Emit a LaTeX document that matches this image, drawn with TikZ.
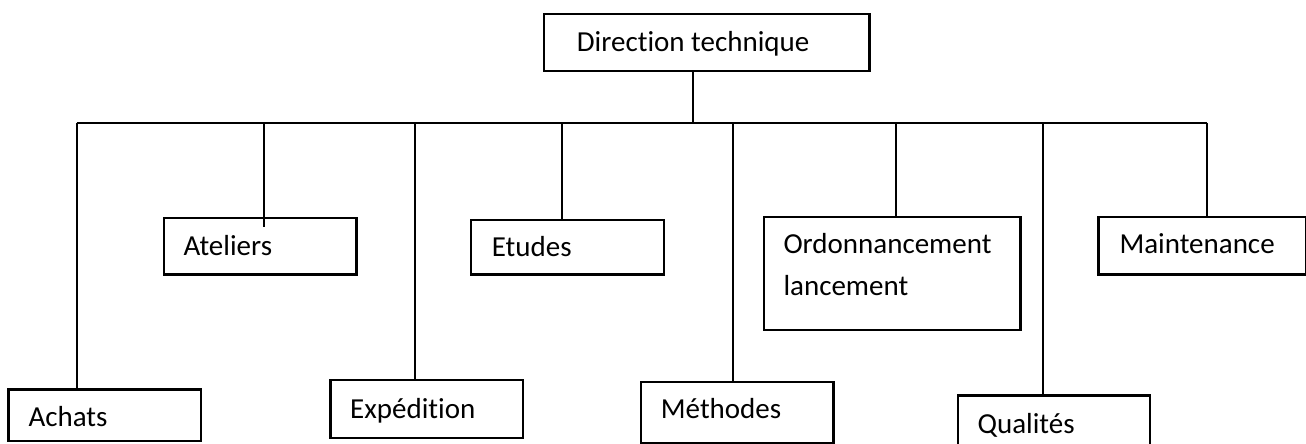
\documentclass[tikz,border=0pt]{standalone}
\usepackage{fontspec}
\setmainfont{Carlito}[Ligatures={NoCommon}]
\begin{document}
\begin{tikzpicture}[x=1pt,y=-1pt,
  box/.style={draw, line width=2.2pt, rectangle, inner sep=0pt, anchor=north west},
  lbl/.style={anchor=base west, inner sep=0pt, font=\fontsize{29}{34}\selectfont},
  link/.style={line width=2.2pt}]
\useasboundingbox (0,0) rectangle (1306,444);

% boxes
\node[box, minimum width=325.6pt, minimum height=56.7pt] (top) at (542.7,13.3) {};
\node[box, minimum width=192.7pt, minimum height=51.7pt] (achats) at (7.3,388.3) {};
\node[box, minimum width=192.6pt, minimum height=56.6pt] (ateliers) at (162.7,216.7) {};
\node[box, minimum width=192.4pt, minimum height=57.7pt] (expedition) at (329.3,379) {};
\node[box, minimum width=192.7pt, minimum height=54.3pt] (etudes) at (470,219) {};
\node[box, minimum width=192.3pt, minimum height=61pt] (methodes) at (640,380.7) {};
\node[box, minimum width=256.6pt, minimum height=113.3pt] (ordo) at (762.7,215.7) {};
\node[box, minimum width=192pt, minimum height=58pt] (qualites) at (956.7,394.3) {};
\node[box, minimum width=208pt, minimum height=57.6pt] (maintenance) at (1097.3,215.7) {};

% labels
\node[lbl] (topT) at (576.7,52) {Direction technique};
\node[lbl] (achatsT) at (28.3,426.7) {Achats};
\node[lbl] (ateliersT) at (183.3,255) {Ateliers};
\node[lbl] (expeditionT) at (350,418.3) {Expédition};
\node[lbl] (etudesT) at (491.7,256.7) {Etudes};
\node[lbl] (methodesT) at (660.7,418.3) {Méthodes};
\node[lbl] (ordoT1) at (783.3,253.3) {Ordonnancement};
\node[lbl] (ordoT2) at (783.3,295) {lancement};
\node[lbl] (qualitesT) at (977.3,433.3) {Qualités};
\node[lbl] (maintenanceT) at (1119.3,253.3) {Maintenance};

% bus points
\coordinate (b0) at (692.7,122.7);
\coordinate (b1) at (76.7,122.7);
\coordinate (b2) at (264,122.7);
\coordinate (b3) at (414.7,122.7);
\coordinate (b4) at (561.7,122.7);
\coordinate (b5) at (732.7,122.7);
\coordinate (b6) at (896,122.7);
\coordinate (b7) at (1043,122.7);
\coordinate (b8) at (1207,122.7);

% connectors
\draw[link] (b0 |- top.south) -- (b0);
\draw[link] (b1) -- (b8);
\draw[link] (b1) -- (b1 |- achats.north);
\draw[link] (b2) -- ([yshift=-10pt]b2 |- ateliers.north);
\draw[link] (b3) -- (b3 |- expedition.north);
\draw[link] (b4) -- (b4 |- etudes.north);
\draw[link] (b5) -- (b5 |- methodes.north);
\draw[link] (b6) -- (b6 |- ordo.north);
\draw[link] (b7) -- (b7 |- qualites.north);
\draw[link] (b8) -- (b8 |- maintenance.north);
\end{tikzpicture}
\end{document}
